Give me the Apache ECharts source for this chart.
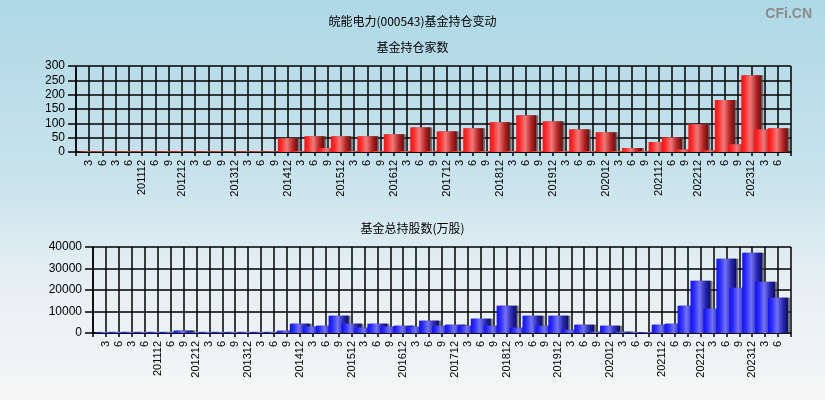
<!DOCTYPE html>
<html>
<head>
<meta charset="utf-8">
<script src="https://cdn.jsdelivr.net/npm/echarts@6/dist/echarts.min.js"></script>
<style>
html,body{margin:0;padding:0;}
body{width:825px;height:400px;background:linear-gradient(to bottom,#aed8e6 0%,#c9e3ec 45%,#e6eff3 70%,#f6f6f6 100%);}
#c{width:825px;height:400px;}
</style>
</head>
<body>
<div id="c"></div>
<script>
// Reporting periods (yyyymm)
var periods = ['201003','201006','201103','201106','201112','201206','201209','201212',
  '201303','201306','201309','201312','201403','201406','201409','201412',
  '201503','201506','201509','201512','201603','201606','201609','201612',
  '201703','201706','201709','201712','201803','201806','201809','201812',
  '201903','201906','201909','201912','202003','202006','202009','202012',
  '202103','202106','202109','202112','202206','202209','202212',
  '202303','202306','202309','202312','202403','202406'];
// Number of funds holding
var fundCount = [2,2,2,2,2,2,2,2,2,2,2,2,2,2,2,48,
  3,55,14,55,3,55,3,62,3,86,3,72,3,83,3,104,
  3,128,3,107,3,79,3,69,3,14,3,35,51,9,97,6,181,27,268,79,83];
// Total shares held by funds (10k shares)
var fundShares = [500,500,500,500,500,500,1150,500,500,500,500,500,500,500,1100,4340,
  2950,3400,8060,4340,2480,4340,2950,3400,2950,5740,3400,3880,3400,6670,3400,12710,
  2480,8060,3400,8060,1550,3880,620,3400,620,465,465,3880,4340,12710,24335,
  11315,34565,21080,37355,23870,16430];
var yTicks1 = {min:0, max:300, interval:50};
var yTicks2 = {min:0, max:40000, interval:10000};

var axisCats = ['_s'].concat(periods).concat(['_e']);
function pad(arr){ return [null].concat(arr).concat([null]); }
function fmt(v){
  if (v === '_s' || v === '_e') return '';
  var m = v.slice(4);
  return m === '12' ? v : String(parseInt(m,10));
}
var lineStyle = {color:'#000', width:1.5};
function xAxis(gi){
  return {
    type:'category', gridIndex:gi, data:axisCats, boundaryGap:false,
    axisLine:{show:true, lineStyle:lineStyle},
    axisTick:{show:true, interval:0, length:4, lineStyle:lineStyle},
    axisLabel:{interval:0, rotate:90, formatter:fmt, color:'#000', fontSize:11,
      fontFamily:'Liberation Sans', margin:8},
    splitLine:{show:true, interval:0, lineStyle:lineStyle}
  };
}
function yAxis(gi, t){
  return {
    type:'value', gridIndex:gi, min:t.min, max:t.max, interval:t.interval,
    axisLine:{show:true, lineStyle:lineStyle},
    axisTick:{show:true, length:8, lineStyle:lineStyle},
    axisLabel:{color:'#000', fontSize:12, fontFamily:'Liberation Sans', margin:11,
      formatter:function(v){ return String(v); }},
    splitLine:{show:true, lineStyle:lineStyle}
  };
}
var redGrad = new echarts.graphic.LinearGradient(0,0,1,0,[
  {offset:0,color:'#ff1010'},{offset:0.18,color:'#ff2a2a'},{offset:0.45,color:'#ee7a7a'},
  {offset:0.75,color:'#b52525'},{offset:1,color:'#6a0c0c'}]);
var blueGrad = new echarts.graphic.LinearGradient(0,0,1,0,[
  {offset:0,color:'#1010ff'},{offset:0.18,color:'#2a2aff'},{offset:0.45,color:'#7272f2'},
  {offset:0.75,color:'#2626b0'},{offset:1,color:'#0c0c66'}]);

var chart = echarts.init(document.getElementById('c'), null, {renderer:'canvas'});
chart.setOption({
  backgroundColor:'transparent',
  animation:false,
  title:[
    {text:'皖能电力(000543)基金持仓变动', left:'center', top:10,
      textStyle:{fontSize:12, fontWeight:'normal', color:'#000', fontFamily:'Noto Sans CJK SC'}},
    {text:'基金持仓家数', left:'center', top:36,
      textStyle:{fontSize:12, fontWeight:'normal', color:'#000', fontFamily:'Noto Sans CJK SC'}},
    {text:'基金总持股数(万股)', left:'center', top:217,
      textStyle:{fontSize:12, fontWeight:'normal', color:'#000', fontFamily:'Noto Sans CJK SC'}},
    {text:'CFi.CN', right:8, top:2,
      textStyle:{fontSize:14, fontWeight:'bold', color:'#8a8a8a', fontFamily:'Liberation Sans'}}
  ],
  grid:[
    {left:76, right:34, top:66, height:86},
    {left:93, right:34, top:247, height:86}
  ],
  xAxis:[xAxis(0), xAxis(1)],
  yAxis:[yAxis(0, yTicks1), yAxis(1, yTicks2)],
  series:[
    {type:'bar', xAxisIndex:0, yAxisIndex:0, data:pad(fundCount), barWidth:20,
      itemStyle:{color:redGrad, shadowColor:'rgba(70,70,70,0.7)', shadowOffsetX:2, shadowOffsetY:0, shadowBlur:0}},
    {type:'bar', xAxisIndex:1, yAxisIndex:1, data:pad(fundShares), barWidth:20,
      itemStyle:{color:blueGrad, shadowColor:'rgba(70,70,70,0.7)', shadowOffsetX:2, shadowOffsetY:0, shadowBlur:0}}
  ]
});
</script>
</body>
</html>
